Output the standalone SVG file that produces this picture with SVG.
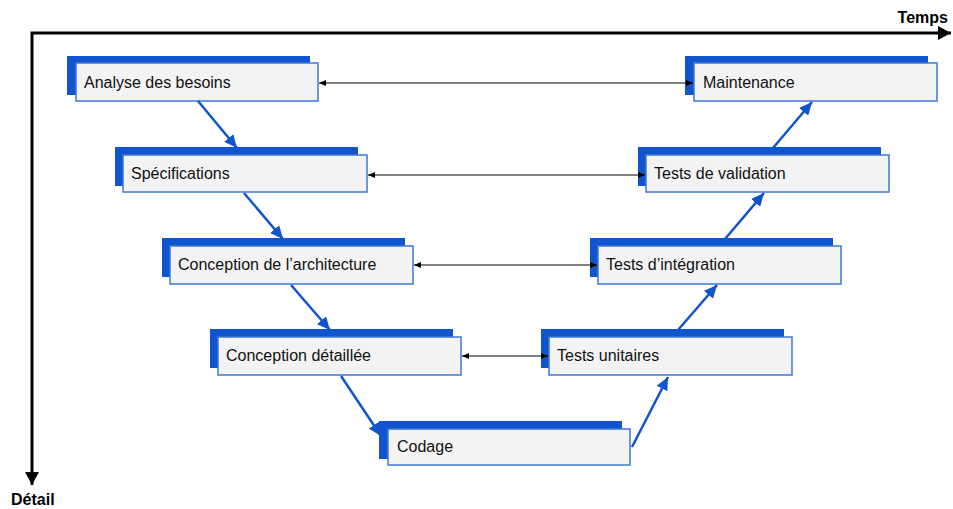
<svg xmlns="http://www.w3.org/2000/svg" width="953" height="509" viewBox="0 0 953 509">
<style>
.back{fill:#1155cc;}
.front{fill:#f3f3f3;stroke:#3c78d8;stroke-width:1.5;}
.lbl{font-family:"Liberation Sans",Arial,sans-serif;font-size:16px;fill:#111;}
.ax{font-family:"Liberation Sans",Arial,sans-serif;font-size:16px;font-weight:bold;fill:#000;}
.flow{stroke:#1155cc;stroke-width:2.5;fill:none;marker-end:url(#ba);}
.link{stroke:#000;stroke-width:1;fill:none;marker-start:url(#ks);marker-end:url(#ke);}
</style>
<defs>
<marker id="ba" markerUnits="userSpaceOnUse" markerWidth="14" markerHeight="12" refX="13" refY="6" orient="auto"><path d="M0,0 L13,6 L0,12 z" fill="#1155cc"/></marker>
<marker id="ke" markerUnits="userSpaceOnUse" markerWidth="8" markerHeight="6" refX="7" refY="3" orient="auto"><path d="M0,0 L7,3 L0,6 z" fill="#000"/></marker>
<marker id="ks" markerUnits="userSpaceOnUse" markerWidth="8" markerHeight="6" refX="0" refY="3" orient="auto"><path d="M7,0 L0,3 L7,6 z" fill="#000"/></marker>
<marker id="axh" markerUnits="userSpaceOnUse" markerWidth="14" markerHeight="14" refX="13" refY="7" orient="auto"><path d="M0,0 L13,7 L0,14 z" fill="#000"/></marker>
</defs>
<g id="axes">
<path d="M951,33 L32,33 L32,485" stroke="#000" stroke-width="3" fill="none" marker-end="url(#axh)"/>
<path d="M32,33 L951,33" stroke="none" fill="none" marker-end="url(#axh)"/>
<text class="ax" x="948" y="23" text-anchor="end">Temps</text>
<text class="ax" x="11" y="505">Détail</text>
</g>
<g id="n1"><rect class="back" x="67" y="56" width="243" height="39"/><rect class="front" x="76" y="63" width="242" height="38"/><text class="lbl" x="84" y="88">Analyse des besoins</text></g>
<g id="n2"><rect class="back" x="115" y="147" width="243" height="39"/><rect class="front" x="123" y="155" width="244" height="37"/><text class="lbl" x="131" y="179">Spécifications</text></g>
<g id="n3"><rect class="back" x="162" y="238" width="243" height="39"/><rect class="front" x="170" y="246" width="243" height="38"/><text class="lbl" x="178" y="270">Conception de l’architecture</text></g>
<g id="n4"><rect class="back" x="210" y="329" width="243" height="39"/><rect class="front" x="218" y="337" width="243" height="38"/><text class="lbl" x="226" y="361">Conception détaillée</text></g>
<g id="n5"><rect class="back" x="379" y="421" width="243" height="38"/><rect class="front" x="388" y="429" width="242" height="36"/><text class="lbl" x="397" y="452">Codage</text></g>
<g id="n6"><rect class="back" x="541" y="329" width="243" height="39"/><rect class="front" x="549" y="337" width="243" height="38"/><text class="lbl" x="557" y="361">Tests unitaires</text></g>
<g id="n7"><rect class="back" x="590" y="238" width="243" height="39"/><rect class="front" x="598" y="246" width="243" height="38"/><text class="lbl" x="606" y="270">Tests d’intégration</text></g>
<g id="n8"><rect class="back" x="638" y="147" width="243" height="39"/><rect class="front" x="646" y="155" width="243" height="37"/><text class="lbl" x="654" y="179">Tests de validation</text></g>
<g id="n9"><rect class="back" x="685" y="56" width="243" height="39"/><rect class="front" x="694" y="63" width="243" height="38"/><text class="lbl" x="703" y="88">Maintenance</text></g>
<g id="connectors">
<line class="flow" x1="198" y1="101" x2="237" y2="148"/>
<line class="flow" x1="244" y1="193" x2="283" y2="239"/>
<line class="flow" x1="291" y1="285" x2="330" y2="330"/>
<line class="flow" x1="341" y1="376" x2="381" y2="436"/>
<line class="flow" x1="632" y1="447" x2="668" y2="377"/>
<line class="flow" x1="678" y1="330" x2="717" y2="285"/>
<line class="flow" x1="725" y1="239" x2="764" y2="193"/>
<line class="flow" x1="773" y1="148" x2="812" y2="102"/>
<line class="link" x1="319" y1="83" x2="693" y2="83"/>
<line class="link" x1="368" y1="175" x2="645" y2="175"/>
<line class="link" x1="414" y1="265" x2="597" y2="265"/>
<line class="link" x1="462" y1="356" x2="548" y2="356"/>
</g>
</svg>
